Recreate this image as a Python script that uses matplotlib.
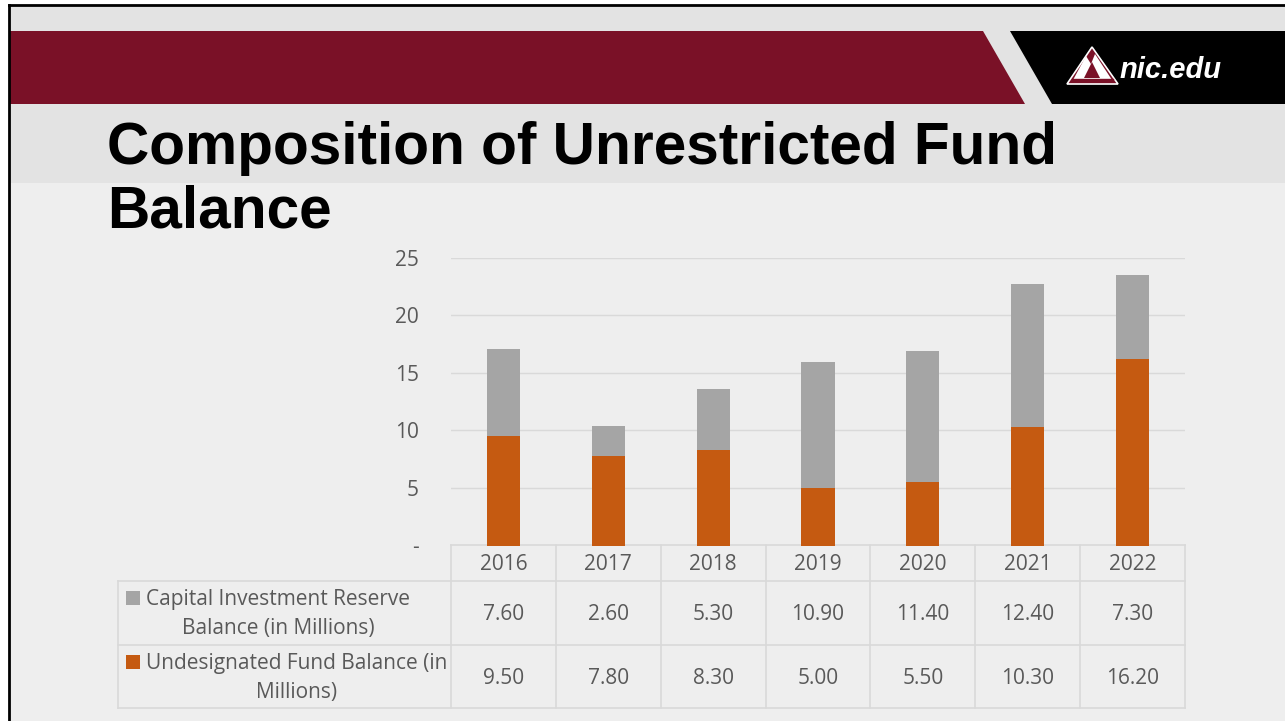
import matplotlib
matplotlib.use('Agg')
import matplotlib.pyplot as plt
import matplotlib.transforms as mtransforms
from matplotlib.patches import Polygon, Rectangle
import numpy as np

# Datos del gráfico
years = ['2016', '2017', '2018', '2019', '2020', '2021', '2022']
capital_reserve = [7.60, 2.60, 5.30, 10.90, 11.40, 12.40, 7.30]
undesignated = [9.50, 7.80, 8.30, 5.00, 5.50, 10.30, 16.20]
series_names = ['Capital Investment Reserve\nBalance (in Millions)',
                'Undesignated Fund Balance (in\nMillions)']
y_ticks = [0, 5, 10, 15, 20, 25]
y_tick_labels = ['-', '5', '10', '15', '20', '25']

GRAY = '#a5a5a5'
ORANGE = '#c55a11'
MAROON = '#7a1127'
TXT = '#595959'
LINE = '#d9d9d9'
FONT = ['Open Sans', 'DejaVu Sans']
FS = 15

W, H = 1285, 721
fig = plt.figure(figsize=(W / 100, H / 100), dpi=100)
fig.patch.set_facecolor('white')

# fondo de la diapositiva en pixeles
bg = fig.add_axes([0, 0, 1, 1])
bg.set_xlim(0, W)
bg.set_ylim(H, 0)
bg.axis('off')
bg.add_patch(Rectangle((9, 5), W, H, facecolor='#eeeeee', edgecolor='none'))
bg.add_patch(Rectangle((9, 5), W, 178, facecolor='#e3e3e3', edgecolor='none'))
bg.plot([9, 9], [5, H], color='black', lw=2)
bg.plot([9, W], [5, 5], color='black', lw=2)
bg.add_patch(Polygon([(10, 31), (983, 31), (1025, 104), (10, 104)], closed=True,
                     facecolor=MAROON, edgecolor='none'))
bg.add_patch(Polygon([(1010, 31), (W, 31), (W, 104), (1052, 104)], closed=True,
                     facecolor='black', edgecolor='none'))
# logo
bg.add_patch(Polygon([(1067, 84), (1092, 47), (1118, 84)], closed=True,
                     facecolor=MAROON, edgecolor='white', lw=1.2))
bg.add_patch(Polygon([(1073, 80), (1086, 56), (1091, 64), (1095, 54), (1112, 80)], closed=True,
                     facecolor='white', edgecolor='none'))
bg.add_patch(Polygon([(1084, 78), (1092, 62), (1100, 78)], closed=True,
                     facecolor=MAROON, edgecolor='none'))
bg.plot([1072, 1113], [79, 79], color=MAROON, lw=1)
bg.text(1120, 70, 'nic.edu', color='white', fontsize=21, fontweight='bold', fontstyle='italic',
        family=['Liberation Sans', 'DejaVu Sans'], va='center', ha='left')

# título
bg.text(107, 164, 'Composition of Unrestricted Fund', fontsize=42.2, fontweight='bold',
        family=['Liberation Sans', 'DejaVu Sans'], color='black', va='baseline')
bg.text(107, 227, 'Balance', fontsize=42.2, fontweight='bold',
        family=['Liberation Sans', 'DejaVu Sans'], color='black', va='baseline')

# gráfico de barras apiladas
ax = fig.add_axes([451 / W, 1 - 545.5 / H, 734 / W, 288 / H])
ax.set_facecolor('none')
x = np.arange(len(years))
ax.bar(x, undesignated, width=0.315, color=ORANGE, zorder=3)
ax.bar(x, capital_reserve, width=0.315, bottom=undesignated, color=GRAY, zorder=3)
ax.set_xlim(-0.5, len(years) - 0.5)
ax.set_ylim(0, 25)
ax.set_yticks(y_ticks)
ax.set_yticklabels(y_tick_labels, fontsize=FS, color=TXT, family=FONT)
ax.set_xticks([])
ax.tick_params(axis='y', length=0, pad=23)
for s in ax.spines.values():
    s.set_visible(False)
for t in y_ticks[1:]:
    ax.axhline(t, color=LINE, lw=1, zorder=1)

# tabla de datos debajo del gráfico
tr = mtransforms.blended_transform_factory(ax.transData, bg.transData)
edges = np.arange(len(years) + 1) - 0.5
rows_y = [545, 581, 645, 708]
for e in edges:
    bg.plot([e, e], [rows_y[0], rows_y[-1]], color=LINE, lw=1.2, transform=tr)
bg.plot([edges[0], edges[-1]], [rows_y[0], rows_y[0]], color=LINE, lw=1.2, transform=tr)
for yy in rows_y[1:]:
    bg.plot([118, 1185], [yy, yy], color=LINE, lw=1.2)
bg.plot([118, 118], [rows_y[1], rows_y[-1]], color=LINE, lw=1.2)

for i, yr in enumerate(years):
    bg.text(i, 565, yr, transform=tr, ha='center', va='center', fontsize=FS,
            color=TXT, family=FONT)
    bg.text(i, 615, f'{capital_reserve[i]:.2f}', transform=tr, ha='center', va='center',
            fontsize=FS, color=TXT, family=FONT)
    bg.text(i, 678, f'{undesignated[i]:.2f}', transform=tr, ha='center', va='center',
            fontsize=FS, color=TXT, family=FONT)

for k, (name, col) in enumerate(zip(series_names, [GRAY, ORANGE])):
    top = rows_y[k + 1]
    bg.add_patch(Rectangle((126, top + 10), 14, 14, facecolor=col, edgecolor='none'))
    bg.text(146, top + 33, name, ha='left', va='center', multialignment='center',
            fontsize=FS, color=TXT, family=FONT, linespacing=1.5)

fig.savefig('out.png', dpi=100, facecolor=fig.get_facecolor())
